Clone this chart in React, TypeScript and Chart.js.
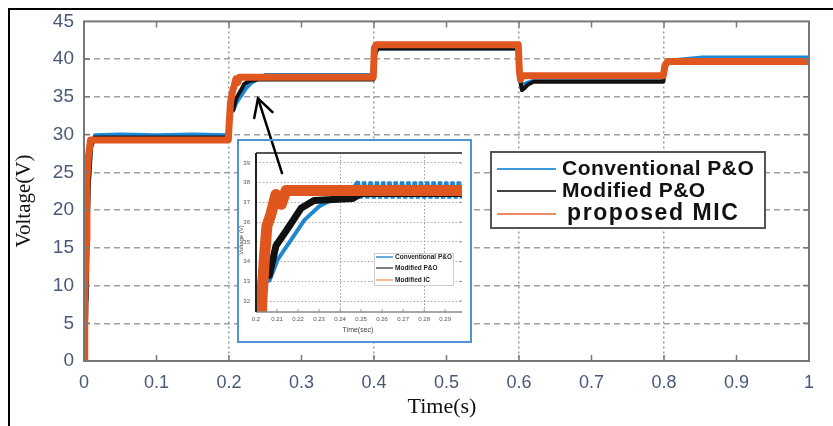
import React, { useEffect, useRef } from "react";
import { Chart, registerables } from "chart.js";
Chart.register(...registerables);

// ---------- main chart data ----------
const xTicks = [0, 0.1, 0.2, 0.3, 0.4, 0.5, 0.6, 0.7, 0.8, 0.9, 1];
const xTickLabels = ["0", "0.1", "0.2", "0.3", "0.4", "0.5", "0.6", "0.7", "0.8", "0.9", "1"];
const yTicks = [0, 5, 10, 15, 20, 25, 30, 35, 40, 45];
const yTickLabels = ["0", "5", "10", "15", "20", "25", "30", "35", "40", "45"];
const xGridAt = [0.2, 0.4, 0.6, 0.8];

const convT = [0.004, 0.006, 0.009, 0.015, 0.05, 0.1, 0.15, 0.199, 0.201, 0.203, 0.206, 0.21, 0.217, 0.223, 0.23, 0.238, 0.25, 0.3, 0.35, 0.399, 0.401, 0.405, 0.45, 0.5, 0.599, 0.601, 0.604, 0.61, 0.62, 0.7, 0.799, 0.801, 0.805, 0.85, 0.9, 1];
const convV = [8, 22, 28, 29.9, 30.0, 29.9, 30.0, 29.9, 31.5, 33, 33.2, 34.2, 35.2, 36.1, 36.8, 37.3, 37.9, 37.9, 37.9, 37.9, 40.5, 41.4, 41.4, 41.4, 41.4, 38, 36.5, 36.8, 37.1, 37.1, 37.1, 38.5, 39.8, 40.2, 40.2, 40.2];

const modT = [0.003, 0.005, 0.007, 0.01, 0.015, 0.199, 0.2, 0.201, 0.203, 0.206, 0.21, 0.216, 0.221, 0.228, 0.24, 0.399, 0.401, 0.405, 0.599, 0.601, 0.604, 0.608, 0.612, 0.62, 0.799, 0.801, 0.806, 1];
const modV = [5.5, 18, 24, 28.5, 29.6, 29.6, 30.5, 32.5, 33.9, 33.3, 34.8, 35.8, 36.7, 37.1, 37.3, 37.3, 40.5, 41.4, 41.4, 37.5, 35.9, 36.2, 36.6, 37.0, 37.0, 38.8, 39.6, 39.6];

const micT = [0, 0.001, 0.003, 0.004, 0.006, 0.009, 0.199, 0.2, 0.202, 0.205, 0.207, 0.2095, 0.212, 0.2145, 0.399, 0.4005, 0.403, 0.599, 0.6005, 0.602, 0.604, 0.799, 0.8015, 0.805, 1];
const micV = [0, 8, 16, 24, 27, 29.3, 29.3, 31, 34.2, 35.8, 36.4, 37.4, 36.9, 37.6, 37.6, 41.5, 41.9, 41.9, 38.5, 37.3, 37.8, 37.8, 39.2, 39.7, 39.7];

const legendLabels = ["Conventional P&O", "Modified P&O", "proposed MIC"];
const arrowTail = [0.2731, 24.9];
const arrowHead = [0.2400, 34.8];

// ---------- inset chart data ----------
const insetXTicks = [0.2, 0.21, 0.22, 0.23, 0.24, 0.25, 0.26, 0.27, 0.28, 0.29];
const insetXLabels = ["0.2", "0.21", "0.22", "0.23", "0.24", "0.25", "0.26", "0.27", "0.28", "0.29"];
const insetYTicks = [32, 33, 34, 35, 36, 37, 38, 39];
const insetYLabels = ["32", "33", "34", "35", "36", "37", "38", "39"];
const insetXGridAt = [0.24, 0.28];

const insConvT = [0.2022, 0.2032, 0.2063, 0.2103, 0.2167, 0.223, 0.2301, 0.2373, 0.244, 0.2485, 0.25, 0.2515, 0.253, 0.2545, 0.256, 0.2575, 0.259, 0.2605, 0.262, 0.2635, 0.265, 0.2665, 0.268, 0.2695, 0.271, 0.2725, 0.274, 0.2755, 0.277, 0.2785, 0.28, 0.2815, 0.283, 0.2845, 0.286, 0.2875, 0.289, 0.2905, 0.292, 0.2935, 0.295, 0.2965, 0.298];
const insConvV = [31.4, 33.2, 33.0, 34.1, 35.1, 36.1, 36.8, 37.2, 37.4, 38.05, 37.2, 38.05, 37.2, 38.05, 37.2, 38.05, 37.2, 38.05, 37.2, 38.05, 37.2, 38.05, 37.2, 38.05, 37.2, 38.05, 37.2, 38.05, 37.2, 38.05, 37.2, 38.05, 37.2, 38.05, 37.2, 38.05, 37.2, 38.05, 37.2, 38.05, 37.2, 38.05, 37.2];

const insModT = [0.2012, 0.2032, 0.2048, 0.2063, 0.2095, 0.2159, 0.2214, 0.2276, 0.246, 0.25, 0.298];
const insModV = [31.4, 33.9, 33.6, 33.3, 34.8, 35.8, 36.7, 37.1, 37.2, 37.45, 37.45];

const insMicT = [0.2025, 0.2027, 0.204, 0.2052, 0.2071, 0.2095, 0.212, 0.2143, 0.298];
const insMicV = [31.4, 31.9, 34.2, 35.8, 36.4, 37.4, 36.9, 37.6, 37.6];

const insetLegendLabels = ["Conventional P&O", "Modified P&O", "Modified IC"];

const SANS = "'Liberation Sans', Arial, sans-serif";
const SERIF = "'Liberation Serif', 'Times New Roman', serif";

const pts = (t: number[], v: number[]) => t.map((x, i) => ({ x, y: v[i] }));

function drawArrow(ctx: CanvasRenderingContext2D, chart: any, ox: number, oy: number) {
  const xs = chart.scales.x;
  const ys = chart.scales.y;
  const tx = xs.getPixelForValue(arrowTail[0]) - ox;
  const ty = ys.getPixelForValue(arrowTail[1]) - oy;
  const hx = xs.getPixelForValue(arrowHead[0]) - ox;
  const hy = ys.getPixelForValue(arrowHead[1]) - oy;
  const ang = Math.atan2(hy - ty, hx - tx);
  const L = 20, a = 0.5;
  ctx.save();
  ctx.strokeStyle = "#000";
  ctx.lineWidth = 2.5;
  ctx.lineCap = "round";
  ctx.beginPath();
  ctx.moveTo(tx, ty);
  ctx.lineTo(hx, hy);
  ctx.stroke();
  ctx.beginPath();
  ctx.moveTo(hx - L * Math.cos(ang - a), hy - L * Math.sin(ang - a));
  ctx.lineTo(hx, hy);
  ctx.lineTo(hx - L * Math.cos(ang + a), hy - L * Math.sin(ang + a));
  ctx.stroke();
  ctx.restore();
}

const INSET_LEFT = 239;
const INSET_TOP = 141;

export default function App() {
  const mainRef = useRef<HTMLCanvasElement>(null);
  const insetRef = useRef<HTMLCanvasElement>(null);

  useEffect(() => {
    if (!mainRef.current || !insetRef.current) return;

    const mainDecor = {
      id: "mainDecor",
      beforeDraw(chart: any) {
        const c = chart.ctx;
        c.save();
        c.fillStyle = "#fff";
        c.fillRect(0, 0, chart.width, chart.height);
        c.fillStyle = "#000";
        c.fillRect(8, 8, chart.width - 8, 2);
        c.fillRect(8, 8, 2, chart.height - 8);
        c.restore();
      },
      afterDatasetsDraw(chart: any) {
        const { ctx, chartArea: a } = chart;
        const x = chart.scales.x, y = chart.scales.y;
        ctx.save();
        ctx.strokeStyle = "#7a7a7a";
        ctx.lineWidth = 1.5;
        ctx.beginPath();
        xTicks.forEach((v) => {
          if (v <= 0 || v >= 1) return;
          const px = x.getPixelForValue(v);
          ctx.moveTo(px, a.bottom);
          ctx.lineTo(px, a.bottom - 6);
          ctx.moveTo(px, a.top);
          ctx.lineTo(px, a.top + 6);
        });
        yTicks.forEach((v) => {
          if (v <= 0 || v >= 45) return;
          const py = y.getPixelForValue(v);
          ctx.moveTo(a.left, py);
          ctx.lineTo(a.left + 6, py);
          ctx.moveTo(a.right, py);
          ctx.lineTo(a.right - 6, py);
        });
        ctx.stroke();
        ctx.lineWidth = 2;
        ctx.strokeStyle = "#777";
        ctx.strokeRect(a.left, a.top, a.right - a.left, a.bottom - a.top);
        ctx.restore();
      },
      afterDraw(chart: any) {
        const ctx = chart.ctx;
        ctx.save();
        // legend
        ctx.fillStyle = "#fff";
        ctx.fillRect(491, 152, 274, 76);
        ctx.strokeStyle = "#555";
        ctx.lineWidth = 2;
        ctx.strokeRect(491, 152, 274, 76);
        const cols = ["#3d9ad8", "#444444", "#f08a60"];
        const rowsY = [169, 191, 214];
        rowsY.forEach((ry, i) => {
          ctx.strokeStyle = cols[i];
          ctx.lineWidth = 1.8;
          ctx.beginPath();
          ctx.moveTo(497, ry);
          ctx.lineTo(556, ry);
          ctx.stroke();
        });
        ctx.fillStyle = "#111";
        ctx.textBaseline = "middle";
        ctx.textAlign = "left";
        ctx.font = `bold 21px ${SANS}`;
        (ctx as any).letterSpacing = "0.5px";
        ctx.fillText(legendLabels[0], 562, rowsY[0]);
        ctx.fillText(legendLabels[1], 562, rowsY[1]);
        ctx.font = `bold 23px ${SANS}`;
        (ctx as any).letterSpacing = "1.6px";
        ctx.fillText(legendLabels[2], 567, rowsY[2]);
        (ctx as any).letterSpacing = "0px";
        // axis titles
        ctx.fillStyle = "#111";
        ctx.textAlign = "center";
        ctx.font = `22px ${SERIF}`;
        ctx.fillText("Time(s)", 442, 407);
        ctx.translate(24, 201);
        ctx.rotate(-Math.PI / 2);
        ctx.font = `21px ${SERIF}`;
        ctx.fillText("Voltage(V)", 0, 0);
        ctx.restore();
        drawArrow(ctx, chart, 0, 0);
      },
    };

    const tickColor = "#4a5878";
    const main = new Chart(mainRef.current, {
      type: "line",
      data: {
        datasets: [
          { label: legendLabels[2], data: pts(micT, micV), borderColor: "#e0561f", borderWidth: 7, order: 0, pointRadius: 0, borderJoinStyle: "round" },
          { label: legendLabels[1], data: pts(modT, modV), borderColor: "#111111", borderWidth: 4, order: 1, pointRadius: 0, borderJoinStyle: "round" },
          { label: legendLabels[0], data: pts(convT, convV), borderColor: "#1e88d6", borderWidth: 4, order: 2, pointRadius: 0, borderJoinStyle: "round" },
        ],
      },
      options: {
        animation: false,
        responsive: false,
        devicePixelRatio: 1,
        events: [],
        layout: { padding: { top: 20, right: 24, left: 0, bottom: 0 } },
        plugins: { legend: { display: false }, tooltip: { enabled: false } },
        elements: { line: { tension: 0 } },
        scales: {
          x: {
            type: "linear",
            min: 0,
            max: 1,
            afterBuildTicks: (s: any) => { s.ticks = xTicks.map((v) => ({ value: v })); },
            afterFit: (s: any) => { s.height = 65; },
            ticks: {
              callback: (_v: any, i: number) => xTickLabels[i],
              padding: 11,
              autoSkip: false,
              maxRotation: 0,
              color: tickColor,
              font: { family: SANS, size: 18 },
            },
            grid: {
              color: (c: any) => (c.tick && xGridAt.includes(c.tick.value) ? "#9a9a9a" : "rgba(0,0,0,0)"),
              lineWidth: 1.5,
              drawTicks: false,
            },
            border: { display: false, dash: [2, 3] },
          },
          y: {
            type: "linear",
            min: 0,
            max: 45,
            afterBuildTicks: (s: any) => { s.ticks = yTicks.map((v) => ({ value: v })); },
            afterFit: (s: any) => { s.width = 84; },
            ticks: {
              callback: (_v: any, i: number) => yTickLabels[i],
              padding: 10,
              autoSkip: false,
              color: tickColor,
              font: { family: SANS, size: 19 },
            },
            grid: {
              color: (c: any) => (c.tick && c.tick.value > 0 && c.tick.value < 45 ? "#a0a0a0" : "rgba(0,0,0,0)"),
              lineWidth: 1.5,
              drawTicks: false,
            },
            border: { display: false, dash: [6, 4] },
          },
        },
      },
      plugins: [mainDecor],
    } as any);

    const insetDecor = {
      id: "insetDecor",
      beforeDraw(chart: any) {
        const c = chart.ctx;
        c.save();
        c.fillStyle = "#fff";
        c.fillRect(0, 0, chart.width, chart.height);
        c.restore();
      },
      afterDatasetsDraw(chart: any) {
        const { ctx, chartArea: a } = chart;
        const x = chart.scales.x, y = chart.scales.y;
        ctx.save();
        ctx.strokeStyle = "#999";
        ctx.lineWidth = 1;
        ctx.beginPath();
        insetXTicks.forEach((v) => {
          const px = x.getPixelForValue(v);
          ctx.moveTo(px, a.bottom);
          ctx.lineTo(px, a.bottom - 3);
        });
        insetYTicks.forEach((v) => {
          const py = y.getPixelForValue(v);
          ctx.moveTo(a.right, py);
          ctx.lineTo(a.right - 3, py);
        });
        ctx.stroke();
        ctx.strokeStyle = "#555";
        ctx.lineWidth = 2;
        ctx.beginPath();
        ctx.moveTo(a.left, a.top);
        ctx.lineTo(a.right, a.top);
        ctx.stroke();
        ctx.strokeStyle = "#888";
        ctx.lineWidth = 1.5;
        ctx.beginPath();
        ctx.moveTo(a.left, a.bottom);
        ctx.lineTo(a.right, a.bottom);
        ctx.stroke();
        ctx.strokeStyle = "#222";
        ctx.lineWidth = 2;
        ctx.beginPath();
        ctx.moveTo(a.left, a.top);
        ctx.lineTo(a.left, a.bottom);
        ctx.stroke();
        ctx.restore();
      },
      afterDraw(chart: any) {
        const ctx = chart.ctx;
        ctx.save();
        // inset legend (page 374..453, 253..285)
        const lx = 374 - INSET_LEFT, ly = 253 - INSET_TOP;
        ctx.fillStyle = "#fff";
        ctx.fillRect(lx, ly, 79, 32);
        ctx.strokeStyle = "#cfcfcf";
        ctx.lineWidth = 1;
        ctx.strokeRect(lx + 0.5, ly + 0.5, 79, 32);
        const cols = ["#3b8fd8", "#555555", "#f0a080"];
        const rows = [257, 268, 280];
        ctx.textBaseline = "middle";
        ctx.textAlign = "left";
        ctx.font = `bold 6.5px ${SANS}`;
        rows.forEach((ry, i) => {
          const yy = ry - INSET_TOP;
          ctx.strokeStyle = cols[i];
          ctx.lineWidth = 1.5;
          ctx.beginPath();
          ctx.moveTo(376 - INSET_LEFT, yy);
          ctx.lineTo(393 - INSET_LEFT, yy);
          ctx.stroke();
          ctx.fillStyle = "#222";
          ctx.fillText(insetLegendLabels[i], 395 - INSET_LEFT, yy);
        });
        // titles
        ctx.fillStyle = "#444";
        ctx.textAlign = "center";
        ctx.font = `7px ${SANS}`;
        ctx.fillText("Time(sec)", 358 - INSET_LEFT, 330 - INSET_TOP);
        ctx.translate(241 - INSET_LEFT, 240 - INSET_TOP);
        ctx.rotate(-Math.PI / 2);
        ctx.font = `6px ${SANS}`;
        ctx.fillText("Voltage (V)", 0, 0);
        ctx.restore();
        drawArrow(ctx, main, INSET_LEFT, INSET_TOP);
      },
    };

    const inset = new Chart(insetRef.current, {
      type: "line",
      data: {
        datasets: [
          { label: insetLegendLabels[2], data: pts(insMicT, insMicV), borderColor: "#e0561f", borderWidth: 11, order: 0, pointRadius: 0, borderJoinStyle: "round" },
          { label: insetLegendLabels[1], data: pts(insModT, insModV), borderColor: "#111111", borderWidth: 7, order: 1, pointRadius: 0, borderJoinStyle: "round" },
          { label: insetLegendLabels[0], data: pts(insConvT, insConvV), borderColor: "#1f86d0", borderWidth: 4, order: 2, pointRadius: 0, borderJoinStyle: "bevel" },
        ],
      },
      options: {
        animation: false,
        responsive: false,
        devicePixelRatio: 1,
        events: [],
        layout: { padding: { top: 12, right: 8, left: 0, bottom: 0 } },
        plugins: { legend: { display: false }, tooltip: { enabled: false } },
        elements: { line: { tension: 0 } },
        scales: {
          x: {
            type: "linear",
            min: 0.2,
            max: 0.298,
            afterBuildTicks: (s: any) => { s.ticks = insetXTicks.map((v) => ({ value: v })); },
            afterFit: (s: any) => { s.height = 29; },
            ticks: {
              callback: (_v: any, i: number) => insetXLabels[i],
              padding: 4,
              autoSkip: false,
              maxRotation: 0,
              color: "#555",
              font: { family: SANS, size: 6 },
            },
            grid: {
              color: (c: any) => (c.tick && insetXGridAt.includes(c.tick.value) ? "#9a9a9a" : "rgba(0,0,0,0)"),
              lineWidth: 1,
              drawTicks: false,
            },
            border: { display: false, dash: [1.5, 2] },
          },
          y: {
            type: "linear",
            min: 31.45,
            max: 39.5,
            afterBuildTicks: (s: any) => { s.ticks = insetYTicks.map((v) => ({ value: v })); },
            afterFit: (s: any) => { s.width = 17; },
            ticks: {
              callback: (_v: any, i: number) => insetYLabels[i],
              padding: 6,
              autoSkip: false,
              color: "#555",
              font: { family: SANS, size: 6 },
            },
            grid: { color: "#a8a8a8", lineWidth: 1, drawTicks: false },
            border: { display: false, dash: [1.5, 2] },
          },
        },
      },
      plugins: [insetDecor],
    } as any);

    return () => {
      inset.destroy();
      main.destroy();
    };
  }, []);

  return (
    <div style={{ position: "absolute", left: 0, top: 0, width: 833, height: 426, background: "#fff", overflow: "hidden" }}>
      <canvas ref={mainRef} width={833} height={426} style={{ position: "absolute", left: 0, top: 0 }} />
      <div
        style={{
          position: "absolute",
          left: 237,
          top: 139,
          width: 235,
          height: 204,
          boxSizing: "border-box",
          border: "2px solid #4f95d6",
          background: "#fff",
        }}
      >
        <canvas ref={insetRef} width={231} height={200} style={{ display: "block" }} />
      </div>
    </div>
  );
}
